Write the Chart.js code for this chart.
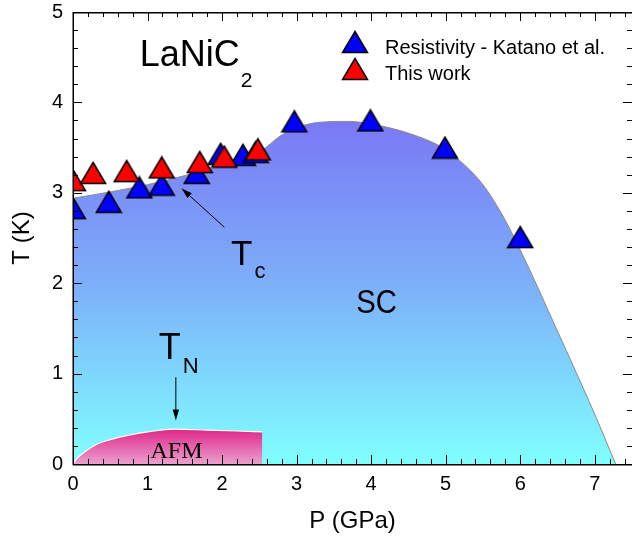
<!DOCTYPE html>
<html>
<head>
<meta charset="utf-8">
<script src="https://cdn.jsdelivr.net/npm/chart.js@4.4.1/dist/chart.umd.min.js"></script>
<style>
  html, body { margin: 0; padding: 0; background: #fff; overflow: hidden; }
  canvas { display: block; }
</style>
</head>
<body>
<canvas id="phase" width="632" height="539"></canvas>
<script>
// Katano et al. resistivity Tc (blue)
const katanoP = [0.0, 0.48, 0.89, 1.19, 1.66, 1.98, 2.28, 2.45, 2.97, 3.99, 4.99, 6.0];
const katanoT = [2.83, 2.90, 3.06, 3.09, 3.22, 3.43, 3.42, 3.45, 3.79, 3.80, 3.50, 2.51];

// this work (red)
const thisP = [0.0, 0.27, 0.72, 1.19, 1.70, 2.03, 2.48];
const thisT = [3.14, 3.22, 3.24, 3.28, 3.34, 3.40, 3.48];

// SC dome boundary
const scP = [0, 0.5, 1.0, 1.5, 2.0, 2.5, 2.8, 3.0, 3.3, 3.7, 4.0, 4.5, 5.0, 5.25, 5.5, 5.75, 6.0, 6.5, 7.0, 7.28];
const scT = [2.94, 3.01, 3.09, 3.19, 3.30, 3.45, 3.64, 3.72, 3.78, 3.79, 3.76, 3.66, 3.48, 3.31, 3.09, 2.77, 2.37, 1.47, 0.55, 0];

// AFM dome boundary
const afmP = [0, 0.05, 0.15, 0.3, 0.5, 0.75, 1.0, 1.35, 1.8, 2.2, 2.54];
const afmT = [0, 0.06, 0.13, 0.21, 0.27, 0.32, 0.355, 0.385, 0.375, 0.365, 0.355];

const xTicks = [0, 1, 2, 3, 4, 5, 6, 7];
const yTicks = [0, 1, 2, 3, 4, 5];
const legendLabels = ['Resistivity - Katano et al.', 'This work'];

const SANS = "'Liberation Sans', Arial, sans-serif";
Chart.defaults.font.family = SANS;
Chart.defaults.color = '#000';

function pts(xs, ys) {
    return xs.map((x, i) => ({ x: x, y: ys[i] }));
}

function triangleMarker(fill) {
    const c = document.createElement('canvas');
    c.width = 28;
    c.height = 24;
    const g = c.getContext('2d');
    g.beginPath();
    g.moveTo(14, 1.5);
    g.lineTo(26.5, 22.5);
    g.lineTo(1.5, 22.5);
    g.closePath();
    g.fillStyle = fill;
    g.fill();
    g.lineWidth = 1.5;
    g.strokeStyle = '#000';
    g.stroke();
    return c;
}

const blueTri = triangleMarker('#0000ff');
const redTri = triangleMarker('#ff0000');

function scGradient(context) {
    const chart = context.chart;
    if (!chart.chartArea) return '#80b0f8';
    const y = chart.scales.y;
    const g = chart.ctx.createLinearGradient(0, y.getPixelForValue(3.8), 0, y.getPixelForValue(0));
    g.addColorStop(0, 'rgb(122,120,245)');
    g.addColorStop(0.5, 'rgb(125,178,250)');
    g.addColorStop(1, 'rgb(128,255,255)');
    return g;
}

function afmGradient(context) {
    const chart = context.chart;
    if (!chart.chartArea) return '#e03090';
    const y = chart.scales.y;
    const g = chart.ctx.createLinearGradient(0, y.getPixelForValue(0.38), 0, y.getPixelForValue(0));
    g.addColorStop(0, 'rgb(224,40,140)');
    g.addColorStop(1, 'rgb(234,160,205)');
    return g;
}

function arrow(ctx, x1, y1, x2, y2) {
    const a = Math.atan2(y2 - y1, x2 - x1);
    const len = 11, half = 3.2;
    ctx.beginPath();
    ctx.moveTo(x1, y1);
    ctx.lineTo(x2 - Math.cos(a) * len * 0.8, y2 - Math.sin(a) * len * 0.8);
    ctx.stroke();
    ctx.beginPath();
    ctx.moveTo(x2, y2);
    ctx.lineTo(x2 - Math.cos(a) * len - Math.sin(a) * half, y2 - Math.sin(a) * len + Math.cos(a) * half);
    ctx.lineTo(x2 - Math.cos(a) * len + Math.sin(a) * half, y2 - Math.sin(a) * len - Math.cos(a) * half);
    ctx.closePath();
    ctx.fill();
}

function noPadding(s) {
    s.paddingTop = 0;
    s.paddingBottom = 0;
    s.paddingLeft = 0;
    s.paddingRight = 0;
}

// frame, inward ticks, labels and legend
const decorations = {
    id: 'decorations',
    afterDraw(chart) {
        const ctx = chart.ctx;
        const area = chart.chartArea;
        const left = Math.round(area.left), right = Math.round(area.right);
        const top = Math.round(area.top), bottom = Math.round(area.bottom);
        const x = chart.scales.x, y = chart.scales.y;
        ctx.save();
        ctx.fillStyle = '#000';

        // frame
        ctx.fillRect(left, top, right - left + 1, 1.5);
        ctx.fillRect(left, bottom, right - left + 1, 1.5);
        ctx.fillRect(left - 0.5, top, 1.5, bottom - top + 1);
        ctx.fillRect(right, top, 1.5, bottom - top + 1);

        // inward ticks: minor step 0.2, major every 1
        for (let i = 0; i * 0.2 <= x.max + 1e-9; i++) {
            const px = Math.round(x.getPixelForValue(i * 0.2));
            const l = i % 5 === 0 ? 9 : 5;
            ctx.fillRect(px, bottom - l, 1, l);
            ctx.fillRect(px, top, 1, l);
        }
        for (let i = 0; i * 0.2 <= y.max + 1e-9; i++) {
            const py = Math.round(y.getPixelForValue(i * 0.2));
            const l = i % 5 === 0 ? 9 : 5;
            ctx.fillRect(left, py, l, 1);
            ctx.fillRect(right - l, py, l, 1);
        }

        ctx.textBaseline = 'alphabetic';
        ctx.textAlign = 'left';

        // LaNiC2
        let px = x.getPixelForValue(0.895), py = y.getPixelForValue(4.4);
        ctx.font = '36px ' + SANS;
        ctx.fillText('LaNiC', px, py);
        let w = ctx.measureText('LaNiC').width;
        ctx.font = '21px ' + SANS;
        ctx.fillText('2', px + w + 1, py + 21);

        // Tc
        px = x.getPixelForValue(2.12); py = y.getPixelForValue(2.20);
        ctx.font = '35px ' + SANS;
        ctx.fillText('T', px, py);
        w = ctx.measureText('T').width;
        ctx.font = '22px ' + SANS;
        ctx.fillText('c', px + w + 2, py + 13);

        // TN
        px = x.getPixelForValue(1.15); py = y.getPixelForValue(1.16);
        ctx.font = '36px ' + SANS;
        ctx.fillText('T', px, py);
        w = ctx.measureText('T').width;
        ctx.font = '22px ' + SANS;
        ctx.fillText('N', px + w + 2, py + 14);

        // SC
        ctx.save();
        ctx.translate(x.getPixelForValue(3.80), y.getPixelForValue(1.67));
        ctx.scale(0.86, 1);
        ctx.font = '34px ' + SANS;
        ctx.fillText('SC', 0, 0);
        ctx.restore();

        // AFM
        ctx.font = "24px 'Liberation Serif', 'Times New Roman', serif";
        ctx.fillText('AFM', x.getPixelForValue(1.04), y.getPixelForValue(0.07));

        // arrows
        ctx.strokeStyle = '#000';
        ctx.lineWidth = 1;
        arrow(ctx, x.getPixelForValue(2.03), y.getPixelForValue(2.62), x.getPixelForValue(1.455), y.getPixelForValue(3.05));
        arrow(ctx, x.getPixelForValue(1.38), y.getPixelForValue(0.96), x.getPixelForValue(1.38), y.getPixelForValue(0.48));

        // legend
        const lx = left + 282, ly = top + 30;
        ctx.drawImage(blueTri, lx - 14, ly - 12);
        ctx.drawImage(redTri, lx - 14, ly + 15);
        ctx.font = '20px ' + SANS;
        ctx.fillText(legendLabels[0], lx + 30, ly + 12);
        ctx.fillText(legendLabels[1], lx + 30, ly + 38);
        ctx.restore();
    }
};

new Chart(document.getElementById('phase').getContext('2d'), {
    type: 'scatter',
    data: {
        datasets: [
            {
                label: legendLabels[1],
                data: pts(thisP, thisT),
                pointStyle: redTri,
                pointRadius: 12,
                showLine: false,
                clip: 0
            },
            {
                label: legendLabels[0],
                data: pts(katanoP, katanoT),
                pointStyle: blueTri,
                pointRadius: 12,
                showLine: false,
                clip: 0
            },
            {
                label: 'AFM',
                data: pts(afmP, afmT),
                showLine: true,
                pointRadius: 0,
                borderColor: '#ffffff',
                borderWidth: 1.2,
                backgroundColor: afmGradient,
                fill: 'origin',
                cubicInterpolationMode: 'monotone',
                clip: 0
            },
            {
                label: 'SC',
                data: pts(scP, scT),
                showLine: true,
                pointRadius: 0,
                borderColor: '#8a8a8a',
                borderWidth: 1,
                backgroundColor: scGradient,
                fill: 'origin',
                cubicInterpolationMode: 'monotone',
                clip: 0
            }
        ]
    },
    options: {
        responsive: false,
        animation: false,
        layout: { autoPadding: false, padding: { left: 0, right: -3, top: 12, bottom: 0 } },
        plugins: {
            legend: { display: false },
            tooltip: { enabled: false }
        },
        scales: {
            x: {
                type: 'linear',
                min: 0,
                max: 7.5,
                afterBuildTicks: s => { s.ticks = xTicks.map(v => ({ value: v })); },
                afterFit: s => { s.height = 75; noPadding(s); },
                grid: { display: false, drawTicks: false },
                border: { display: false },
                ticks: { font: { size: 20 }, padding: 8, maxRotation: 0, color: '#000' },
                title: { display: true, text: 'P (GPa)', font: { size: 24 }, color: '#000', padding: { top: 0, bottom: 3 } }
            },
            y: {
                type: 'linear',
                min: 0,
                max: 5,
                afterBuildTicks: s => { s.ticks = yTicks.map(v => ({ value: v })); },
                afterFit: s => { s.width = 73; noPadding(s); },
                grid: { display: false, drawTicks: false },
                border: { display: false },
                ticks: { font: { size: 20 }, padding: 10, color: '#000' },
                title: { display: true, text: 'T (K)', font: { size: 24 }, color: '#000', padding: { top: 8, bottom: 0 } }
            }
        }
    },
    plugins: [decorations]
});
</script>
</body>
</html>
